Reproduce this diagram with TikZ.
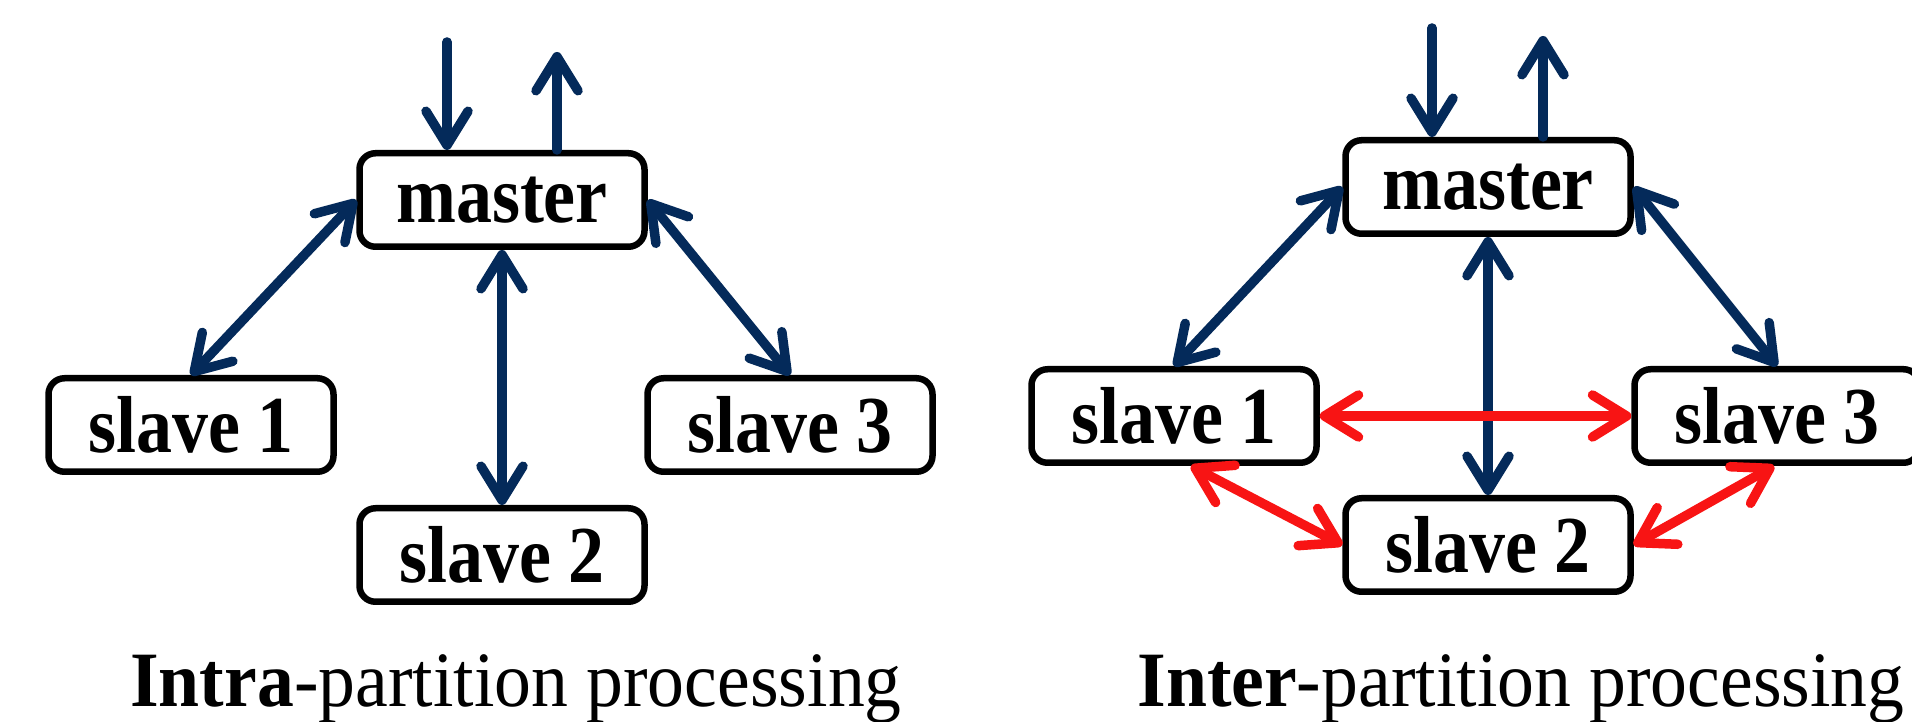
\documentclass[tikz,border=0pt]{standalone}
\usepackage{fontspec}
\setmainfont{Liberation Serif}
\newfontfamily\boxfont[FakeStretch=0.89]{Liberation Serif}
\newfontfamily\capfont[FakeStretch=0.94]{Liberation Serif}
\usetikzlibrary{arrows.meta}
\definecolor{navy}{RGB}{4,42,90}
\definecolor{linkred}{RGB}{248,20,20}
\tikzset{barbtip/.tip={Straight Barb[length=3.4mm,width=4.2mm,round]}}
\begin{document}
\begin{tikzpicture}[x=0.1mm,y=-0.1mm,
  box/.style={draw=black, line width=0.65mm, rounded corners=1.6mm, fill=white,
    minimum width=28.5mm, minimum height=9.35mm, inner sep=0pt,
    font=\boxfont\fontsize{23}{26}\selectfont\bfseries},
  link/.style={line width=0.95mm, line cap=round, barbtip-barbtip},
  feed/.style={line width=0.95mm, line cap=round, -barbtip},
  caption/.style={anchor=base, font=\capfont\fontsize{22.3}{26}\selectfont}
]
\useasboundingbox (0,0) rectangle (1912,722);
\clip (0,0) rectangle (1912,722);

% ---------- intra-partition ----------
\node[box] (Lm)  at (502,200) {master};
\node[box] (Ls1) at (191,425) {slave 1};
\node[box] (Ls3) at (790,425) {slave 3};
\node[box] (Ls2) at (502,555) {slave 2};
\coordinate (Lin)  at (447,42);
\coordinate (Lout) at (557,52);

\draw[feed, navy] (Lin) -- (Lin |- Lm.north);
\draw[feed, navy] (Lout |- Lm.north) -- (Lout);
\draw[link, navy] (Lm.west) -- (Ls1.north);
\draw[link, navy] (Lm.east) -- (Ls3.north);
\draw[link, navy] (Lm.south) -- (Ls2.north);

\node[caption] (Lcap) at (516,707) {\textbf{Intra}-partition processing};

% ---------- inter-partition ----------
\node[box] (Rm)  at (1488,187) {master};
\node[box] (Rs1) at (1174,416) {slave 1};
\node[box] (Rs3) at (1777,416) {slave 3};
\node[box] (Rs2) at (1488,545) {slave 2};
\coordinate (Rin)  at (1432,28);
\coordinate (Rout) at (1543,36);

\draw[feed, navy] (Rin) -- (Rin |- Rm.north);
\draw[feed, navy] (Rout |- Rm.north) -- (Rout);
\draw[link, navy] (Rm.west) -- (Rs1.north);
\draw[link, navy] (Rm.east) -- (Rs3.north);
\draw[link, navy] (Rm.south) -- (Rs2.north);

\draw[link, linkred] (Rs1.east) -- (Rs3.west);
\draw[link, linkred] ([xshift=1.7mm]Rs1.south) -- (Rs2.west);
\draw[link, linkred] ([xshift=-0.3mm]Rs3.south) -- (Rs2.east);

\node[caption] (Rcap) at (1521,707) {\textbf{Inter}-partition processing};
\end{tikzpicture}
\end{document}
